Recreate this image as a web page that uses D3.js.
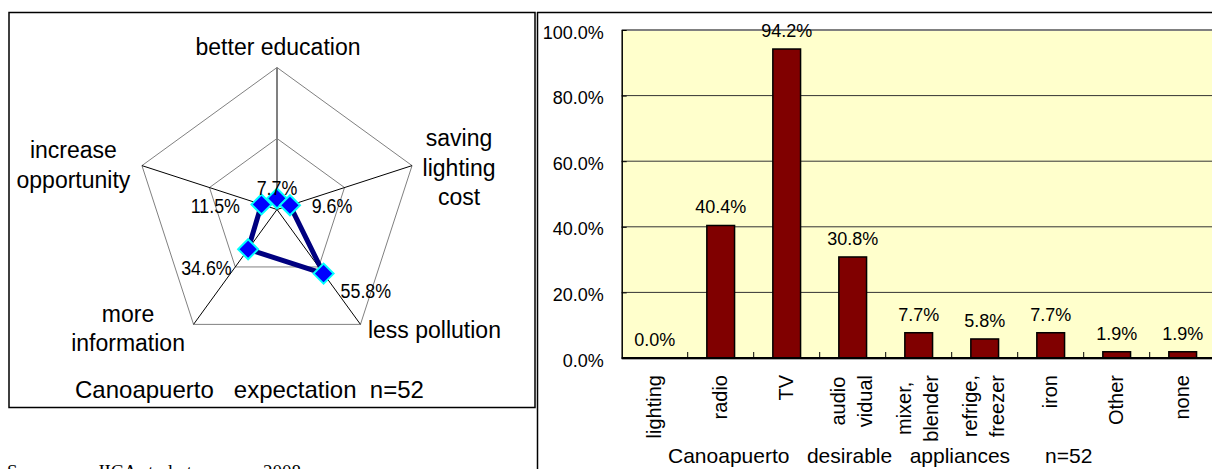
<!DOCTYPE html>
<html>
<head>
<meta charset="utf-8">
<script src="https://cdn.jsdelivr.net/npm/d3@7"></script>
<style>
  html, body { margin: 0; padding: 0; background: #fff; }
  svg { display: block; }
  text { font-family: "Liberation Sans", Arial, Helvetica, sans-serif; fill: #000; }
</style>
</head>
<body>
<svg id="chart" width="1212" height="469"></svg>
<script>
// ---- Radar: expectations (percent of respondents, n=52) ----
const radarAxes = ["better education", "saving lighting cost", "less pollution", "more information", "increase opportunity"];
const radarLabelLines = [["better education"], ["saving", "lighting", "cost"], ["less pollution"], ["more", "information"], ["increase", "opportunity"]];
const radarValues = [7.7, 9.6, 55.8, 34.6, 11.5];
const radarLevels = [50, 100];
const radarTitle = "Canoapuerto   expectation  n=52";

// ---- Bars: desirable appliances (percent of respondents, n=52) ----
const applianceCategories = ["lighting", "radio", "TV", "audio vidual", "mixer, blender", "refrige, freezer", "iron", "Other", "none"];
const applianceValues = [0.0, 40.4, 94.2, 30.8, 7.7, 5.8, 7.7, 1.9, 1.9];
const yTickValues = [0, 20, 40, 60, 80, 100];
const barTitle = "Canoapuerto   desirable   appliances      n=52";

const sourceParts = ["Source :", "JICA study team", "2008"];

const svg = d3.select("#chart");
const pct = v => d3.format(".1f")(v) + "%";

// ================= Left panel: radar chart =================
svg.append("rect")
  .attr("x", 9).attr("y", 12.5).attr("width", 526).attr("height", 395)
  .attr("fill", "#fff").attr("stroke", "#000").attr("stroke-width", 1.5);

const cx = 277, cy = 209.5, R = 142;
const rScale = d3.scaleLinear().domain([0, 100]).range([0, R]);
const angle = i => i * 2 * Math.PI / radarAxes.length;
const polar = (i, v) => [cx + rScale(v) * Math.sin(angle(i)), cy - rScale(v) * Math.cos(angle(i))];

const radar = svg.append("g");

// pentagon grid rings
radarLevels.forEach(level => {
  radar.append("path")
    .attr("d", d3.line().curve(d3.curveLinearClosed)(radarAxes.map((_, i) => polar(i, level))))
    .attr("fill", "none").attr("stroke", "#808080").attr("stroke-width", 1);
});

// spokes (first one carries the value axis)
radarAxes.forEach((_, i) => {
  const [x2, y2] = polar(i, 100);
  radar.append("line")
    .attr("x1", cx).attr("y1", cy).attr("x2", x2).attr("y2", y2)
    .attr("stroke", i === 0 ? "#808080" : "#000")
    .attr("stroke-width", i === 0 ? 2 : 1);
});

// category labels around the pentagon: [dx, dy of first baseline] from each vertex
const radarLabelOffsets = [[1, -12.5], [47, -19.6], [74, 13.6], [-65.5, -2.7], [-68.5, -7.6]];
radarLabelLines.forEach((lines, i) => {
  const [vx, vy] = polar(i, 100);
  const t = radar.append("text")
    .attr("text-anchor", "middle")
    .attr("font-size", 23);
  lines.forEach((ln, k) => {
    t.append("tspan")
      .attr("x", vx + radarLabelOffsets[i][0])
      .attr("y", vy + radarLabelOffsets[i][1] + k * 29.5)
      .text(ln);
  });
});

// data series
const pts = radarValues.map((v, i) => polar(i, v));
radar.append("path")
  .attr("d", d3.line().curve(d3.curveLinearClosed)(pts))
  .attr("fill", "none").attr("stroke", "#000080").attr("stroke-width", 5)
  .attr("stroke-linejoin", "round");

radar.selectAll(".marker").data(pts).join("path")
  .attr("class", "marker")
  .attr("transform", d => `translate(${d[0]},${d[1]})`)
  .attr("d", "M0,-10L10,0L0,10L-10,0Z")
  .attr("fill", "#0000ff").attr("stroke", "#00ffff").attr("stroke-width", 2);

// value labels
const valueLabelPlacement = [[0, -3.6, "middle"], [21.7, 7.7, "start"], [17, 24.4, "start"], [-16.4, 25.8, "end"], [-21.5, 8.5, "end"]];
radarValues.forEach((v, i) => {
  const [px, py] = pts[i];
  const [dx, dy, anchor] = valueLabelPlacement[i];
  radar.append("text")
    .attr("transform", `translate(${px + dx},${py + dy}) scale(0.85,1)`)
    .attr("text-anchor", anchor)
    .attr("font-size", 21)
    .text(pct(v));
});

radar.append("text")
  .attr("x", 75).attr("y", 398)
  .attr("font-size", 24)
  .style("white-space", "pre")
  .text(radarTitle);

// source line under the left panel
const src = svg.append("text")
  .attr("y", 478)
  .attr("font-size", 19)
  .style("font-family", "'Liberation Serif', 'Times New Roman', serif");
[7, 97, 263].forEach((x, k) => src.append("tspan").attr("x", x).text(sourceParts[k]));

// ================= Right panel: bar chart =================
svg.append("line").attr("x1", 537.5).attr("x2", 537.5).attr("y1", 12).attr("y2", 469)
  .attr("stroke", "#000").attr("stroke-width", 1.5);
svg.append("line").attr("x1", 537).attr("x2", 1212).attr("y1", 12.5).attr("y2", 12.5)
  .attr("stroke", "#000").attr("stroke-width", 1.5);

const plotL = 621.7, plotT = 30, plotB = 358, step = 66;
const plotR = plotL + step * applianceCategories.length;

const x = d3.scaleBand().domain(applianceCategories).range([plotL, plotR]).padding(0);
const y = d3.scaleLinear().domain([0, 100]).range([plotB, plotT]);
const barW = x.bandwidth() * 0.42;

const bars = svg.append("g");

bars.append("rect")
  .attr("x", plotL).attr("y", plotT).attr("width", plotR - plotL).attr("height", plotB - plotT)
  .attr("fill", "#ffffcc");

// horizontal gridlines
bars.selectAll(".grid").data(yTickValues.filter(v => v > 0 && v < 100)).join("line")
  .attr("class", "grid")
  .attr("x1", plotL).attr("x2", plotR)
  .attr("y1", d => y(d)).attr("y2", d => y(d))
  .attr("stroke", "#333").attr("stroke-width", 1);

// plot-area top border
bars.append("line")
  .attr("x1", plotL).attr("x2", plotR).attr("y1", y(100)).attr("y2", y(100))
  .attr("stroke", "#808080").attr("stroke-width", 2);

// bars
bars.selectAll(".bar").data(applianceValues).join("rect")
  .attr("class", "bar")
  .attr("x", (d, i) => x(applianceCategories[i]) + (x.bandwidth() - barW) / 2)
  .attr("y", d => y(d))
  .attr("width", barW)
  .attr("height", d => y(0) - y(d))
  .attr("fill", "#800000")
  .attr("stroke", "#000").attr("stroke-width", d => d > 0 ? 1.5 : 0);

// value labels
bars.selectAll(".val").data(applianceValues).join("text")
  .attr("class", "val")
  .attr("x", (d, i) => x(applianceCategories[i]) + x.bandwidth() / 2)
  .attr("y", d => y(d) - 12)
  .attr("text-anchor", "middle")
  .attr("font-size", 18)
  .text(d => pct(d));

// y axis
const yAxis = d3.axisLeft(y)
  .tickValues(yTickValues)
  .tickFormat(d => d3.format(".1f")(d) + "%")
  .tickSizeInner(-5).tickSizeOuter(0).tickPadding(18);
const yg = bars.append("g").attr("transform", `translate(${plotL},0)`).call(yAxis);
yg.select(".domain").attr("stroke", "#000").attr("stroke-width", 1.5);
yg.selectAll(".tick line").attr("stroke", "#000");
yg.selectAll(".tick text")
  .attr("font-size", 18).attr("dy", "0.45em")
  .style("font-family", "'Liberation Sans', Arial, sans-serif").attr("fill", "#000");

// x axis line and category separators
bars.append("line")
  .attr("x1", plotL).attr("x2", plotR).attr("y1", y(0) + 1.5).attr("y2", y(0) + 1.5)
  .attr("stroke", "#aaa").attr("stroke-width", 1);
bars.append("line")
  .attr("x1", plotL).attr("x2", plotR).attr("y1", y(0)).attr("y2", y(0))
  .attr("stroke", "#000").attr("stroke-width", 2);
bars.selectAll(".sep").data(applianceCategories.slice(1)).join("line")
  .attr("class", "sep")
  .attr("x1", d => x(d)).attr("x2", d => x(d))
  .attr("y1", y(0) - 6).attr("y2", y(0))
  .attr("stroke", "#000").attr("stroke-width", 1);

// rotated category labels, end of text aligned just below the axis
const labelTop = 375, lineGap = 26.5;
applianceCategories.forEach(cat => {
  const lines = cat.split(" ");
  const c = x(cat) + x.bandwidth() / 2;
  const g = bars.append("g").attr("transform", `translate(${c},0) rotate(-90)`);
  const texts = lines.map((ln, k) => g.append("text")
    .attr("text-anchor", "middle")
    .attr("font-size", 20)
    .attr("y", 6 + (k - (lines.length - 1) / 2) * lineGap)
    .text(ln));
  const maxW = d3.max(texts, t => t.node().getComputedTextLength());
  texts.forEach(t => t.attr("x", -(labelTop + maxW / 2)));
});

bars.append("text")
  .attr("x", 668).attr("y", 463)
  .attr("font-size", 21)
  .style("white-space", "pre")
  .text(barTitle);
</script>
</body>
</html>
